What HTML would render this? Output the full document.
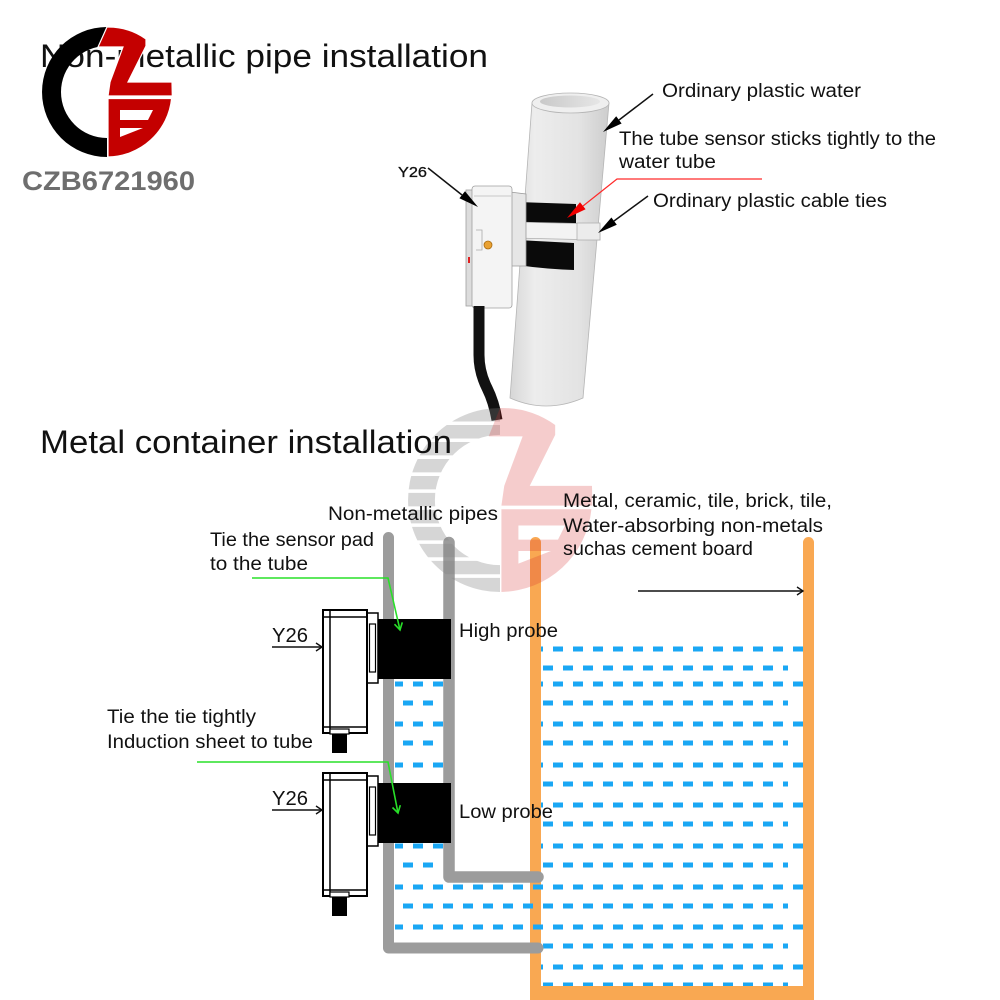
<!DOCTYPE html>
<html><head><meta charset="utf-8"><style>
html,body{margin:0;padding:0;background:#fff;}
svg{display:block;}
text{font-family:"Liberation Sans","DejaVu Sans",sans-serif;fill:#111;}
</style></head><body>
<svg width="1000" height="1000" viewBox="0 0 1000 1000" xmlns="http://www.w3.org/2000/svg">
<defs>
  <linearGradient id="pipeG" x1="0" x2="1" y1="0" y2="0">
    <stop offset="0" stop-color="#d6d6d6"/>
    <stop offset="0.25" stop-color="#ededed"/>
    <stop offset="0.7" stop-color="#e3e3e3"/>
    <stop offset="1" stop-color="#cdcdcd"/>
  </linearGradient>
  <linearGradient id="holeG" x1="0" x2="1" y1="0" y2="0">
    <stop offset="0" stop-color="#c9c9c9"/>
    <stop offset="1" stop-color="#e6e6e6"/>
  </linearGradient>
  <clipPath id="water">
    <rect x="395" y="679" width="48" height="102"/>
    <rect x="395" y="843" width="48" height="110"/>
    <rect x="395" y="882" width="146" height="61"/>
    <rect x="541" y="640" width="262" height="346"/>
  </clipPath>
  <clipPath id="stripes">
    <rect x="30" y="27" width="80" height="9.5"/>
    <rect x="30" y="39" width="80" height="9.5"/>
    <rect x="30" y="51" width="80" height="9.5"/>
    <rect x="30" y="63" width="80" height="9.5"/>
    <rect x="30" y="75" width="80" height="9.5"/>
    <rect x="30" y="87" width="80" height="9.5"/>
    <rect x="30" y="99" width="80" height="9.5"/>
    <rect x="30" y="111" width="80" height="9.5"/>
    <rect x="30" y="123" width="80" height="9.5"/>
    <rect x="30" y="135" width="80" height="9.5"/>
    <rect x="30" y="147" width="80" height="10"/>
  </clipPath>
</defs>

<!-- ===== Titles ===== -->
<text x="40" y="67" font-size="32" textLength="448" lengthAdjust="spacingAndGlyphs">Non-metallic pipe installation</text>

<!-- ===== Top-left logo ===== -->
<g>
  <path d="M107,27 A65,65 0 0 0 107,157 L107,138 A46,46 0 0 1 107,46 Z" fill="#000"/>
  <path d="M98,47 L107,27 A65,65 0 0 1 146,39 L146,46 L128,82 L172,82 L172.3,96 L108,96 L110,82 L123,47 Z" fill="#c40000" stroke="#fff" stroke-width="1.2"/>
  <path d="M108,98.5 L171.6,98.5 A65,65 0 0 1 108,157 Z" fill="#c40000" stroke="#fff" stroke-width="1.2"/>
  <polygon points="120,110 153,110 148,120 120,120" fill="#fff"/>
  <polygon points="120,128 143,128 120,137" fill="#fff"/>
</g>
<text x="22" y="190" font-size="27" font-weight="bold" textLength="173" lengthAdjust="spacingAndGlyphs" style="fill:#6e6e6e">CZB6721960</text>

<!-- ===== Top pipe illustration ===== -->
<path d="M532,103 L510,398 Q546,414 583,398 L609,103 Z" fill="url(#pipeG)" stroke="#b5b5b5" stroke-width="0.8"/>
<ellipse cx="570.5" cy="103" rx="38.5" ry="10" fill="#efefef" stroke="#b5b5b5" stroke-width="0.8"/>
<ellipse cx="570" cy="101.5" rx="30" ry="6" fill="url(#holeG)"/>

<!-- bands -->
<path d="M517,202 L576,204 L576,231 L517,229 Z" fill="#0a0a0a"/>
<path d="M517,240 L574,243 L574,270 Q545,269 517,265 Z" fill="#0a0a0a"/>
<path d="M514,222 L600,224 L600,240 L514,238 Z" fill="#f3f3f3" stroke="#b0b0b0" stroke-width="0.8"/>
<rect x="577" y="223" width="23" height="17" fill="#ececec" stroke="#b0b0b0" stroke-width="0.8"/>

<!-- bracket -->
<path d="M510,192 L526,194 L526,266 L510,266 Z" fill="#e6e6e6" stroke="#9a9a9a" stroke-width="0.8"/>
<!-- sensor body -->
<rect x="466" y="190" width="10" height="116" fill="#dcdcdc" stroke="#a0a0a0" stroke-width="0.8"/>
<rect x="472" y="186" width="40" height="122" rx="3" fill="#f4f4f4" stroke="#a0a0a0" stroke-width="0.8"/>
<line x1="474" y1="196" x2="511" y2="196" stroke="#bbb" stroke-width="0.8"/>
<path d="M476,230 L482,230 L482,250 L476,250" fill="none" stroke="#aaa" stroke-width="0.8"/>
<circle cx="488" cy="245" r="4" fill="#e9a132" stroke="#a86a10" stroke-width="0.8"/>
<rect x="468" y="257" width="2" height="6" fill="#e02020"/>
<!-- cable -->
<path d="M479,306 L479,355 Q479,372 487,388 Q494,402 497,420" stroke="#111" stroke-width="11" fill="none"/>

<!-- top arrows -->
<line x1="653" y1="94" x2="619" y2="120" stroke="#111" stroke-width="1.5"/>
<polygon points="603,132 621.6,123.5 616.2,116.3" fill="#000"/>
<line x1="648" y1="196" x2="614" y2="221" stroke="#111" stroke-width="1.5"/>
<polygon points="598,233 616.8,224.7 611.4,217.5" fill="#000"/>
<line x1="428" y1="168" x2="462" y2="195" stroke="#111" stroke-width="1.5"/>
<polygon points="478,207 459.4,198.3 465.0,191.2" fill="#000"/>
<polyline points="762,179 617,179 583,206" fill="none" stroke="#ff2a2a" stroke-width="1.2"/>
<polygon points="567,218 585.6,209.3 580.0,202.2" fill="#f00000"/>

<text x="398" y="177" font-size="15" textLength="29" lengthAdjust="spacingAndGlyphs" style="stroke:#111;stroke-width:0.3">Y26</text>
<text x="662" y="97" font-size="19" textLength="199" lengthAdjust="spacingAndGlyphs">Ordinary plastic water</text>
<text x="619" y="145" font-size="19" textLength="317" lengthAdjust="spacingAndGlyphs">The tube sensor sticks tightly to the</text>
<text x="619" y="168" font-size="19" textLength="97" lengthAdjust="spacingAndGlyphs">water tube</text>
<text x="653" y="207" font-size="19" textLength="234" lengthAdjust="spacingAndGlyphs">Ordinary plastic cable ties</text>

<!-- ===== Bottom: tank ===== -->
<line x1="535.5" y1="542.5" x2="535.5" y2="1000" stroke="#f9a852" stroke-width="11" stroke-linecap="round"/>
<line x1="808.5" y1="542.5" x2="808.5" y2="1000" stroke="#f9a852" stroke-width="11" stroke-linecap="round"/>

<!-- water dashes -->
<g clip-path="url(#water)" stroke="#1aa7f4" stroke-width="5" stroke-dasharray="10 10">
  <line x1="393" y1="649" x2="803" y2="649"/>
  <line x1="383" y1="668" x2="788" y2="668"/>
  <line x1="393" y1="684" x2="803" y2="684"/>
  <line x1="383" y1="703" x2="788" y2="703"/>
  <line x1="393" y1="724" x2="803" y2="724"/>
  <line x1="383" y1="743" x2="788" y2="743"/>
  <line x1="393" y1="765" x2="803" y2="765"/>
  <line x1="383" y1="784" x2="788" y2="784"/>
  <line x1="393" y1="805" x2="803" y2="805"/>
  <line x1="383" y1="824" x2="788" y2="824"/>
  <line x1="393" y1="846" x2="803" y2="846"/>
  <line x1="383" y1="865" x2="788" y2="865"/>
  <line x1="393" y1="887" x2="803" y2="887"/>
  <line x1="383" y1="906" x2="788" y2="906"/>
  <line x1="393" y1="927" x2="803" y2="927"/>
  <line x1="383" y1="946" x2="788" y2="946"/>
  <line x1="393" y1="967" x2="803" y2="967"/>
  <line x1="383" y1="985" x2="788" y2="985"/>
</g>
<rect x="530" y="986" width="284" height="14" fill="#f9a852"/>

<!-- gray pipes -->
<path d="M388.5,537.5 V948 H538" fill="none" stroke="#9c9c9c" stroke-width="11" stroke-linecap="round" stroke-linejoin="round"/>
<path d="M449,542.5 V877 H538" fill="none" stroke="#9c9c9c" stroke-width="11.5" stroke-linecap="round" stroke-linejoin="round"/>

<!-- pads -->
<rect x="378" y="619" width="73" height="60" fill="#000"/>
<rect x="378" y="783" width="73" height="60" fill="#000"/>

<!-- sensor box 1 -->
<g fill="#fff" stroke="#000">
  <rect x="367" y="613" width="11" height="70" stroke-width="1.5"/>
  <rect x="369.5" y="624" width="6" height="48" stroke-width="1.2"/>
  <rect x="323" y="610" width="44" height="123" stroke-width="2"/>
  <line x1="330" y1="610" x2="330" y2="733" stroke-width="1.5"/>
  <line x1="323" y1="617" x2="367" y2="617" stroke-width="1.5"/>
  <line x1="323" y1="727" x2="367" y2="727" stroke-width="1.5"/>
  <rect x="330" y="729" width="19" height="5" stroke-width="1.2"/>
</g>
<rect x="332" y="734" width="15" height="19" fill="#000"/>
<!-- sensor box 2 -->
<g fill="#fff" stroke="#000">
  <rect x="367" y="776" width="11" height="70" stroke-width="1.5"/>
  <rect x="369.5" y="787" width="6" height="48" stroke-width="1.2"/>
  <rect x="323" y="773" width="44" height="123" stroke-width="2"/>
  <line x1="330" y1="773" x2="330" y2="896" stroke-width="1.5"/>
  <line x1="323" y1="780" x2="367" y2="780" stroke-width="1.5"/>
  <line x1="323" y1="890" x2="367" y2="890" stroke-width="1.5"/>
  <rect x="330" y="892" width="19" height="5" stroke-width="1.2"/>
</g>
<rect x="332" y="897" width="15" height="19" fill="#000"/>

<!-- Y26 arrows -->
<g stroke="#111" stroke-width="1.4" fill="none">
  <line x1="272" y1="647" x2="322" y2="647"/>
  <polyline points="316,643 322,647 316,651"/>
  <line x1="272" y1="810" x2="322" y2="810"/>
  <polyline points="316,806 322,810 316,814"/>
  <line x1="638" y1="591" x2="803" y2="591"/>
  <polyline points="797,587 803,591 797,595"/>
</g>

<!-- green arrows -->
<g stroke="#28e028" stroke-width="1.6" fill="none">
  <polyline points="252,578 388,578 400,630"/>
  <polyline points="394.5,624.2 400,630 402.3,622.4"/>
  <polyline points="197,762 388,762 398,813"/>
  <polyline points="392.5,807.5 398,813 400.3,805.2"/>
</g>

<!-- ===== Watermark ===== -->
<g transform="translate(500,500) scale(1.415) translate(-107,-92)">
  <path clip-path="url(#stripes)" d="M107,27 A65,65 0 0 0 107,157 L107,138 A46,46 0 0 1 107,46 Z" fill="#808080" fill-opacity="0.32"/>
  <path d="M99,47 L107,27 A65,65 0 0 1 146,39 L146,46 L128,82 L172,82 L172.3,96 L108,96 L110,82 L123,47 Z" fill="#d62a2a" fill-opacity="0.24"/>
  <path d="M108,98.5 L171.6,98.5 A65,65 0 0 1 108,157 Z M120,110 L120,120 L148,120 L153,110 Z M120,128 L120,137 L143,128 Z" fill="#d62a2a" fill-opacity="0.24" fill-rule="evenodd"/>
</g>

<!-- bottom texts -->
<text x="40" y="453" font-size="32" textLength="412" lengthAdjust="spacingAndGlyphs">Metal container installation</text>
<text x="328" y="520" font-size="19" textLength="170" lengthAdjust="spacingAndGlyphs">Non-metallic pipes</text>
<text x="210" y="546" font-size="19" textLength="164" lengthAdjust="spacingAndGlyphs">Tie the sensor pad</text>
<text x="210" y="570" font-size="19" textLength="98" lengthAdjust="spacingAndGlyphs">to the tube</text>
<text x="563" y="507" font-size="19" textLength="269" lengthAdjust="spacingAndGlyphs">Metal, ceramic, tile, brick, tile,</text>
<text x="563" y="532" font-size="19" textLength="260" lengthAdjust="spacingAndGlyphs">Water-absorbing non-metals</text>
<text x="563" y="555" font-size="19" textLength="190" lengthAdjust="spacingAndGlyphs">suchas cement board</text>
<text x="107" y="723" font-size="19" textLength="149" lengthAdjust="spacingAndGlyphs">Tie the tie tightly</text>
<text x="107" y="748" font-size="19" textLength="206" lengthAdjust="spacingAndGlyphs">Induction sheet to tube</text>
<text x="459" y="637" font-size="19" textLength="99" lengthAdjust="spacingAndGlyphs">High probe</text>
<text x="459" y="818" font-size="19" textLength="94" lengthAdjust="spacingAndGlyphs">Low probe</text>
<text x="272" y="642" font-size="20" textLength="36" lengthAdjust="spacingAndGlyphs">Y26</text>
<text x="272" y="805" font-size="20" textLength="36" lengthAdjust="spacingAndGlyphs">Y26</text>
</svg>
</body></html>
